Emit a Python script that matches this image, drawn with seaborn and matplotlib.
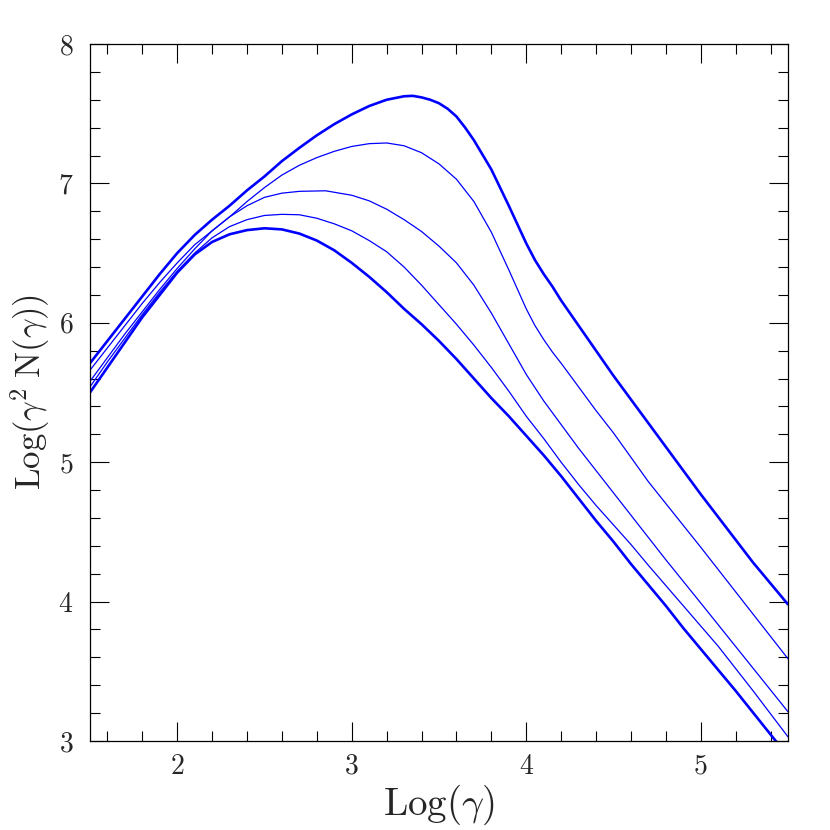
import numpy as np
import pandas as pd
import seaborn as sns
import matplotlib.pyplot as plt
from matplotlib.ticker import MultipleLocator

# =========================
# DATA
# =========================

# curve A - thick, highest peak
xa = [1.5, 1.6, 1.7, 1.8, 1.9, 2.0, 2.1, 2.2, 2.3, 2.4, 2.5, 2.6, 2.7, 2.8, 2.9,
      3.0, 3.1, 3.2, 3.3, 3.35, 3.4, 3.45, 3.5, 3.55, 3.6, 3.65, 3.7, 3.8, 3.9,
      4.0, 4.05, 4.1, 4.15, 4.2, 4.3, 4.4, 4.5, 4.6, 4.7, 5.0, 5.3, 5.5]
ya = [5.71, 5.87, 6.03, 6.19, 6.35, 6.50, 6.63, 6.74, 6.84, 6.95, 7.05, 7.16,
      7.255, 7.345, 7.425, 7.495, 7.555, 7.60, 7.625, 7.628, 7.617, 7.60, 7.575,
      7.535, 7.48, 7.40, 7.31, 7.10, 6.84, 6.57, 6.45, 6.35, 6.26, 6.16, 5.98,
      5.80, 5.62, 5.45, 5.28, 4.77, 4.28, 3.98]

# curve B - thin
xb = [1.5, 1.6, 1.7, 1.8, 1.9, 2.0, 2.1, 2.2, 2.3, 2.4, 2.5, 2.6, 2.7, 2.8, 2.9,
      3.0, 3.1, 3.2, 3.3, 3.4, 3.5, 3.6, 3.7, 3.8, 3.9, 3.95, 4.0, 4.05, 4.1,
      4.15, 4.2, 4.3, 4.4, 4.5, 4.7, 5.0, 5.3, 5.5]
yb = [5.66, 5.82, 5.98, 6.14, 6.29, 6.43, 6.56, 6.66, 6.76, 6.87, 6.97, 7.06,
      7.13, 7.185, 7.23, 7.265, 7.285, 7.29, 7.27, 7.22, 7.14, 7.03, 6.87, 6.65,
      6.38, 6.24, 6.10, 5.98, 5.88, 5.79, 5.71, 5.54, 5.37, 5.21, 4.86, 4.39,
      3.91, 3.59]

# curve C - thin
xc = [1.5, 1.6, 1.7, 1.8, 1.9, 2.0, 2.1, 2.2, 2.3, 2.4, 2.5, 2.6, 2.7, 2.85,
      3.0, 3.1, 3.2, 3.3, 3.4, 3.5, 3.6, 3.7, 3.8, 3.9, 4.0, 4.1, 4.2, 4.3, 4.4,
      4.5, 4.6, 4.7, 4.8, 5.0, 5.25, 5.5]
yc = [5.58, 5.75, 5.92, 6.08, 6.24, 6.39, 6.53, 6.66, 6.76, 6.84, 6.90, 6.93,
      6.943, 6.947, 6.915, 6.875, 6.815, 6.74, 6.655, 6.55, 6.43, 6.27, 6.07,
      5.85, 5.63, 5.44, 5.27, 5.10, 4.94, 4.78, 4.62, 4.46, 4.30, 3.99, 3.60,
      3.21]

# curve D - thin
xd = [1.5, 1.6, 1.7, 1.8, 1.9, 2.0, 2.1, 2.2, 2.3, 2.4, 2.5, 2.6, 2.7, 2.8, 2.9,
      3.0, 3.1, 3.2, 3.3, 3.4, 3.5, 3.6, 3.7, 3.8, 3.9, 4.0, 4.1, 4.2, 4.3, 4.4,
      4.5, 4.6, 4.7, 4.9, 5.1, 5.3, 5.5]
yd = [5.54, 5.72, 5.89, 6.06, 6.22, 6.37, 6.50, 6.61, 6.69, 6.74, 6.77, 6.778,
      6.775, 6.75, 6.71, 6.66, 6.59, 6.51, 6.40, 6.27, 6.13, 5.99, 5.84, 5.68,
      5.51, 5.33, 5.17, 5.00, 4.84, 4.69, 4.55, 4.41, 4.26, 3.97, 3.68, 3.36, 3.03]

# curve E - thick, lowest peak
xe = [1.5, 1.6, 1.7, 1.8, 1.9, 2.0, 2.1, 2.2, 2.3, 2.4, 2.5, 2.6, 2.7, 2.8, 2.9,
      3.0, 3.1, 3.2, 3.3, 3.4, 3.5, 3.6, 3.7, 3.8, 3.9, 4.0, 4.1, 4.2, 4.3, 4.4,
      4.5, 4.6, 4.7, 4.8, 4.9, 5.0, 5.2, 5.43, 5.5]
ye = [5.50, 5.68, 5.86, 6.04, 6.20, 6.36, 6.49, 6.58, 6.635, 6.665, 6.678, 6.67,
      6.64, 6.59, 6.52, 6.43, 6.33, 6.22, 6.10, 5.99, 5.87, 5.74, 5.60, 5.46,
      5.33, 5.19, 5.05, 4.90, 4.74, 4.58, 4.43, 4.27, 4.12, 3.97, 3.81, 3.66,
      3.36, 3.0, 2.90]

curves = [(xa, ya, 1.9), (xb, yb, 0.9), (xc, yc, 0.9), (xd, yd, 0.9), (xe, ye, 1.9)]

# =========================
# STYLE
# =========================

sns.set_style("ticks")
plt.rcParams['font.family'] = ['cmr10', 'DejaVu Serif']
plt.rcParams['mathtext.fontset'] = 'cm'
plt.rcParams['axes.formatter.use_mathtext'] = True

fig = plt.figure(figsize=(8.3, 8.3), dpi=100)
ax = fig.add_axes([0.1084, 0.1072, 0.8410, 0.8398])

for x, y, lw in curves:
    sns.lineplot(x=x, y=y, ax=ax, color="#0000ff", linewidth=lw, sort=False)

ax.set_xlim(1.5, 5.5)
ax.set_ylim(3, 8)
ax.xaxis.set_major_locator(MultipleLocator(1))
ax.xaxis.set_minor_locator(MultipleLocator(0.2))
ax.yaxis.set_major_locator(MultipleLocator(1))
ax.yaxis.set_minor_locator(MultipleLocator(0.2))

ax.tick_params(which="both", direction="in", top=True, right=True,
               color="black", width=0.8)
ax.tick_params(which="major", length=13.5, labelsize=20)
ax.tick_params(axis="x", which="major", pad=9)
ax.tick_params(axis="y", which="major", pad=12)
ax.tick_params(which="minor", length=7)
for s in ax.spines.values():
    s.set_linewidth(0.9)
    s.set_color("black")

ax.set_xlabel(r"$\mathrm{Log}(\gamma)$", fontsize=28, labelpad=2)
ax.set_ylabel(r"$\mathrm{Log}(\gamma^2\;\mathrm{N}(\gamma))$", fontsize=25, labelpad=4)

fig.savefig("out.png", dpi=100)
